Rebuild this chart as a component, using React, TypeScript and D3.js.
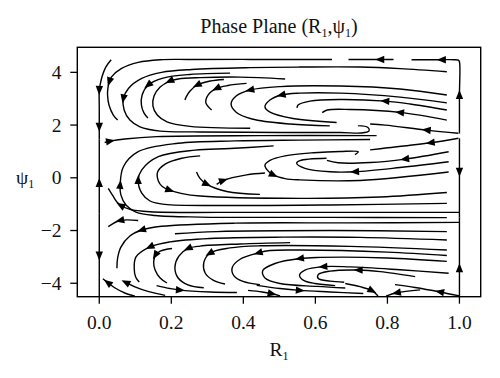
import React from 'react';
import * as d3 from 'd3';

// axes
const xTicks = [0, 0.2, 0.4, 0.6, 0.8, 1.0];
const yTicks = [-4, -2, 0, 2, 4];
const xDomain = [-0.061, 1.059];
const yDomain = [-4.51, 4.95];

// streamlines, [R1, psi1] points in flow order
const v0a = [[0.033,4.48],[0.018,4.20],[0.008,3.85],[0.002,3.50],[0,3.33],[0,2.6],[0,1.93],[0,1.45]];
const v0b = [[0,-1.34],[0,-0.2],[0,1.45]];
const v0c = [[0,-1.34],[0,-2.95],[0,-4.5]];
const v1a = [[1,1.68],[1,3.14],[1,4.40],[0.997,4.46],[0.985,4.48],[0.951,4.48],[0.867,4.48]];
const v1b = [[1,1.50],[1,0.23],[1,-1.50]];
const v1c = [[1,-4.48],[1,-3.43],[1,-1.50]];
const tl2 = [[0.817,4.49],[0.780,4.49],[0.692,4.49]];
const tl3 = [[0.646,4.49],[0.42,4.49],[0.25,4.49],[0.169,4.48],[0.108,4.38],[0.062,4.15],[0.034,3.83],[0.028,3.65],[0.024,3.40],[0.023,3.14],[0.027,2.76],[0.039,2.38],[0.051,2.19]];
const s03 = [[0.965,4.02],[0.835,4.14],[0.724,4.20],[0.557,4.20],[0.419,4.18],[0.257,4.11],[0.173,4.00],[0.118,3.77],[0.081,3.39],[0.067,3.01],[0.069,2.57],[0.085,2.19],[0.113,1.93],[0.169,1.77],[0.28,1.74],[0.502,1.72],[0.669,1.72],[0.727,1.70],[0.749,1.78],[0.746,1.91],[0.718,1.98]];
const s04 = [[0.363,3.97],[0.252,3.92],[0.177,3.78],[0.136,3.52],[0.119,3.14],[0.117,2.76],[0.124,2.46],[0.135,2.27]];
const s05 = [[0.516,3.75],[0.391,3.82],[0.28,3.80],[0.219,3.75],[0.196,3.67],[0.169,3.44],[0.152,3.10],[0.149,2.72],[0.161,2.38],[0.188,2.12],[0.252,1.95],[0.419,1.88]];
const s06 = [[0.346,3.73],[0.308,3.67],[0.272,3.52],[0.252,3.29],[0.241,3.06],[0.238,2.95]];
const s07 = [[0.409,3.58],[0.357,3.50],[0.326,3.39],[0.302,3.14],[0.296,2.84],[0.312,2.57]];
const s08 = [[0.965,3.14],[0.835,3.37],[0.669,3.48],[0.502,3.46],[0.419,3.33],[0.380,3.10],[0.366,2.80],[0.380,2.49],[0.424,2.23],[0.530,2.04],[0.640,1.97]];
const s09 = [[0.965,2.84],[0.835,3.06],[0.669,3.21],[0.557,3.21],[0.506,3.14],[0.474,2.95],[0.460,2.69],[0.474,2.49],[0.538,2.25],[0.659,2.10]];
const s10 = [[0.965,2.57],[0.863,2.80],[0.794,2.91],[0.669,2.97],[0.585,2.91],[0.552,2.76],[0.549,2.65]];
const s11 = [[0.965,2.19],[0.835,2.48],[0.696,2.59],[0.633,2.57],[0.619,2.47]];
const s13 = [[0.997,1.69],[0.909,1.81],[0.794,2.00],[0.752,2.04]];
const s14 = [[0.997,1.50],[0.920,1.33],[0.790,1.12],[0.752,1.06]];
const h2 = [[0.015,1.34],[0.03,1.39],[0.071,1.47],[0.160,1.56],[0.446,1.60],[0.770,1.60]];
const m1 = [[0.965,-1.51],[0.641,-1.50],[0.28,-1.49],[0.155,-1.43],[0.102,-1.30],[0.074,-1.03],[0.060,-0.65],[0.058,-0.27],[0.067,0.42],[0.108,0.99],[0.219,1.31],[0.377,1.40],[0.557,1.43],[0.752,1.45]];
const m2 = [[0.965,-0.97],[0.641,-1.03],[0.371,-1.05],[0.182,-1.01],[0.141,-0.88],[0.118,-0.58],[0.108,-0.08],[0.118,0.30],[0.164,0.80],[0.266,1.05],[0.363,1.11],[0.484,1.21]];
const m3 = [[0.28,0.83],[0.229,0.74],[0.183,0.52],[0.162,0.22],[0.164,-0.12],[0.175,-0.33],[0.195,-0.47],[0.23,-0.6],[0.28,-0.69],[0.557,-0.78],[0.78,-0.73],[0.965,-0.56]];
const m4 = [[0.27,0.22],[0.279,-0.01],[0.298,-0.24],[0.354,-0.52],[0.446,-0.63]];
const m5 = [[0.326,-0.25],[0.344,-0.10],[0.409,0.11],[0.46,0.18]];
const m6 = [[0.71,0.88],[0.719,0.99],[0.669,1.0],[0.595,0.95],[0.516,0.83],[0.474,0.66],[0.46,0.48],[0.466,0.30],[0.483,0.11],[0.516,-0.03],[0.557,-0.08],[0.724,-0.10],[0.97,0.22]];
const m7 = [[0.97,0.61],[0.835,0.39],[0.71,0.23],[0.641,0.23],[0.571,0.36],[0.548,0.55],[0.557,0.65],[0.631,0.74]];
const m8 = [[0.97,0.99],[0.849,0.71],[0.752,0.58],[0.663,0.57],[0.632,0.66]];
const b1 = [[1.0,-1.31],[0.696,-1.31],[0.419,-1.31],[0.141,-1.29],[0.085,-1.20],[0.060,-1.05],[0.049,-0.92],[0.038,-0.69],[0.025,-0.40]];
const b2 = [[0.108,-1.62],[0.058,-1.62],[0.025,-1.85]];
const b3 = [[1.0,-1.69],[0.696,-1.71],[0.377,-1.72],[0.173,-1.84],[0.118,-1.98],[0.085,-2.21],[0.060,-2.63],[0.051,-3.04],[0.049,-3.43]];
const b22 = [[0.965,-2.04],[0.641,-2.0],[0.326,-2.04],[0.21,-2.12]];
const b4 = [[0.965,-2.36],[0.724,-2.26],[0.510,-2.25],[0.307,-2.30],[0.196,-2.43],[0.141,-2.62],[0.102,-3.0],[0.097,-3.42],[0.101,-3.76],[0.111,-3.95]];
const b5 = [[0.202,-2.68],[0.169,-2.78],[0.156,-2.93],[0.151,-3.19],[0.155,-3.50],[0.169,-3.80],[0.188,-3.99]];
const b6 = [[0.53,-2.46],[0.391,-2.51],[0.28,-2.59],[0.247,-2.68],[0.221,-2.97],[0.21,-3.39],[0.219,-3.80],[0.246,-4.06],[0.29,-4.17]];
const b7 = [[0.159,-4.09],[0.196,-4.2],[0.224,-4.26],[0.308,-4.33],[0.382,-4.35]];
const b8 = [[0.437,-4.08],[0.502,-4.20],[0.557,-4.27],[0.641,-4.33],[0.733,-4.39]];
const b9 = [[0.413,-4.27],[0.452,-4.33],[0.479,-4.40],[0.502,-4.48]];
const b10 = [[0.965,-2.74],[0.696,-2.60],[0.446,-2.58],[0.363,-2.66],[0.307,-2.86],[0.29,-3.23],[0.294,-3.61],[0.316,-3.88],[0.349,-4.03]];
const b11 = [[0.965,-2.95],[0.80,-2.82],[0.557,-2.74],[0.474,-2.76],[0.442,-2.85],[0.391,-3.09],[0.369,-3.41],[0.374,-3.72],[0.399,-3.93],[0.446,-4.05]];
const b12 = [[0.965,-3.17],[0.80,-3.04],[0.613,-3.02],[0.557,-3.06],[0.488,-3.25],[0.454,-3.52],[0.46,-3.80],[0.502,-4.01],[0.604,-4.12],[0.683,-4.18]];
const b13 = [[0.97,-3.62],[0.835,-3.49],[0.696,-3.38],[0.622,-3.37],[0.571,-3.50],[0.556,-3.69],[0.566,-3.88],[0.599,-4.01],[0.655,-4.09]];
const b14 = [[0.877,-3.75],[0.78,-3.56],[0.72,-3.50],[0.641,-3.54],[0.608,-3.67],[0.608,-3.82],[0.641,-3.92],[0.68,-3.96]];
const b16 = [[0.683,-4.01],[0.724,-4.13],[0.757,-4.28],[0.774,-4.48]];
const b17 = [[1.0,-4.48],[0.946,-4.33],[0.877,-4.16],[0.821,-4.05]];
const b18 = [[0.891,-4.25],[0.826,-4.36],[0.796,-4.49]];
const b19 = [[0.099,-4.49],[0.071,-4.37],[0.044,-4.18],[0.024,-3.98],[0.010,-3.83]];
const b20 = [[0.183,-4.46],[0.135,-4.31],[0.099,-4.14],[0.074,-3.97]];

// which vertices carry an arrowhead
const streamlines = [
  { pts: v0a, arrows: [4, 6] }, { pts: v0b, arrows: [1] }, { pts: v0c, arrows: [1] },
  { pts: v1a, arrows: [1, 5] }, { pts: v1b, arrows: [1] }, { pts: v1c, arrows: [1] },
  { pts: tl2, arrows: [1] }, { pts: tl3, arrows: [7] },
  { pts: s03, arrows: [9] }, { pts: s04, arrows: [3] }, { pts: s05, arrows: [4] },
  { pts: s06, arrows: [2] }, { pts: s07, arrows: [2] }, { pts: s08, arrows: [4] },
  { pts: s09, arrows: [4] }, { pts: s10, arrows: [2] }, { pts: s11, arrows: [1] },
  { pts: s13, arrows: [1] }, { pts: s14, arrows: [1] }, { pts: h2, arrows: [1] },
  { pts: m1, arrows: [7] }, { pts: m2, arrows: [6] }, { pts: m3, arrows: [6] },
  { pts: m4, arrows: [2] }, { pts: m5, arrows: [1] }, { pts: m6, arrows: [8] },
  { pts: m7, arrows: [2] }, { pts: m8, arrows: [1] },
  { pts: b1, arrows: [5] }, { pts: b2, arrows: [1] }, { pts: b3, arrows: [4] },
  { pts: b22, arrows: [] }, { pts: b4, arrows: [5] }, { pts: b5, arrows: [2] },
  { pts: b6, arrows: [3] }, { pts: b7, arrows: [2] }, { pts: b8, arrows: [2] },
  { pts: b9, arrows: [2] }, { pts: b10, arrows: [4] }, { pts: b11, arrows: [4] },
  { pts: b12, arrows: [3] }, { pts: b13, arrows: [3] }, { pts: b14, arrows: [2] },
  { pts: b16, arrows: [2] }, { pts: b17, arrows: [1] }, { pts: b18, arrows: [1] },
  { pts: b19, arrows: [3] }, { pts: b20, arrows: [3] },
];

const FONT = '"Liberation Serif", "Times New Roman", serif';

export default function App() {
  const left = 77.3, right = 480.7, top = 47.3, bottom = 296.7;
  const x = d3.scaleLinear().domain(xDomain).range([left, right]);
  const y = d3.scaleLinear().domain(yDomain).range([bottom, top]);
  const line = d3.line<number[]>().x(d => x(d[0])).y(d => y(d[1])).curve(d3.curveCatmullRom.alpha(0.5));

  const arrowPath = (pts: number[][], i: number) => {
    const p = pts[i];
    const a = pts[Math.max(0, i - 1)];
    const b = pts[Math.min(pts.length - 1, i + 1)];
    const px = x(p[0]), py = y(p[1]);
    let dx = x(b[0]) - x(a[0]), dy = y(b[1]) - y(a[1]);
    const len = Math.hypot(dx, dy) || 1;
    dx /= len; dy /= len;
    const L = 9, w = 3.7;
    const tx = px + dx * L * 0.55, ty = py + dy * L * 0.55;
    const bx = px - dx * L * 0.45, by = py - dy * L * 0.45;
    return `M${tx},${ty}L${bx - dy * w},${by + dx * w}L${bx + dy * w},${by - dx * w}Z`;
  };

  return (
    <svg width={500} height={378} style={{ position: 'absolute', left: 0, top: 0, background: '#fff' }}>
      <rect x={0} y={0} width={500} height={378} fill="#fff" />
      <g>
        {streamlines.map((s, k) => (
          <path key={'l' + k} d={line(s.pts) || ''} fill="none" stroke="#000" strokeWidth={1.4} />
        ))}
        {streamlines.map((s, k) =>
          s.arrows.map((i, j) => <path key={'a' + k + '-' + j} d={arrowPath(s.pts, i)} fill="#000" />)
        )}
      </g>
      <rect x={left} y={top} width={right - left} height={bottom - top} fill="none" stroke="#000" strokeWidth={1.4} />
      {xTicks.map(t => (
        <g key={'xt' + t}>
          <line x1={x(t)} x2={x(t)} y1={bottom} y2={bottom + 7} stroke="#000" strokeWidth={1.3} />
          <text x={x(t)} y={328.5} textAnchor="middle" fontFamily={FONT} fontSize={19.5} fill="#111">{t.toFixed(1)}</text>
        </g>
      ))}
      {yTicks.map(t => (
        <g key={'yt' + t}>
          <line x1={left - 7} x2={left} y1={y(t)} y2={y(t)} stroke="#000" strokeWidth={1.3} />
          <text x={61.5} y={y(t)} dy="0.34em" textAnchor="end" fontFamily={FONT} fontSize={19.5} fill="#111">{t < 0 ? '\u2212' + Math.abs(t) : String(t)}</text>
        </g>
      ))}
      <text x={279} y={33} textAnchor="middle" fontFamily={FONT} fontSize={20} fill="#111">
        Phase Plane (R<tspan fontSize={12} dy={4}>1</tspan><tspan dy={-4}>,ψ</tspan><tspan fontSize={12} dy={4}>1</tspan><tspan dy={-4}>)</tspan>
      </text>
      <text x={279} y={355.5} textAnchor="middle" fontFamily={FONT} fontSize={19.5} fill="#111">
        R<tspan fontSize={12} dy={4}>1</tspan>
      </text>
      <text x={16} y={183.5} textAnchor="start" fontFamily={FONT} fontSize={19.5} fill="#111">
        ψ<tspan fontSize={12} dy={4}>1</tspan>
      </text>
    </svg>
  );
}
